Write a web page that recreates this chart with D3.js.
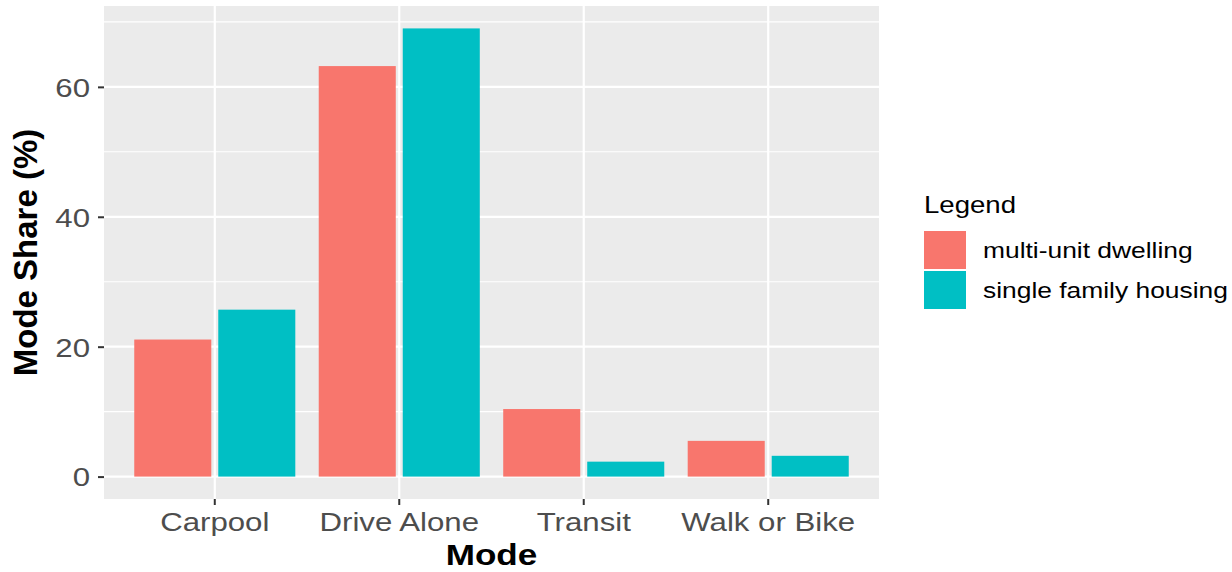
<!DOCTYPE html>
<html>
<head>
<meta charset="utf-8">
<script src="https://cdn.jsdelivr.net/npm/d3@7"></script>
<style>
  html, body { margin: 0; padding: 0; background: #ffffff; }
  svg { display: block; font-family: "Liberation Sans", Arial, Helvetica, sans-serif; }
</style>
</head>
<body>
<svg id="chart" width="1232" height="572"></svg>
<script>
const categories = ["Carpool", "Drive Alone", "Transit", "Walk or Bike"];
const seriesNames = ["multi-unit dwelling", "single family housing"];
const multiUnit = [21.1, 63.2, 10.4, 5.5];
const singleFamily = [25.7, 69.0, 2.3, 3.2];
const yTicks = [0, 20, 40, 60];
const yMinorTicks = [10, 30, 50, 70];
const seriesColors = ["#F8766D", "#00BFC4"];
const xTitle = "Mode";
const yTitle = "Mode Share (%)";
const legendTitle = "Legend";

const seriesValues = [multiUnit, singleFamily];
const rows = [];
categories.forEach((c, i) => {
  seriesNames.forEach((s, j) => rows.push({ cat: c, series: s, value: seriesValues[j][i], color: seriesColors[j] }));
});

const panel = { left: 104, right: 879, top: 6, bottom: 499 };
const SX = 1.2; // horizontal stretch of text in the reference

const svg = d3.select("#chart");

const maxV = d3.max(rows, d => d.value);
const pad = maxV * 0.05;
const y = d3.scaleLinear().domain([0 - pad, maxV + pad]).range([panel.bottom, panel.top]);
const x = d3.scaleBand().domain(categories).range([panel.left, panel.right]).paddingInner(0.127).paddingOuter(0.164);
const xi = d3.scaleBand().domain(seriesNames).range([0, x.bandwidth()]).paddingInner(0.083);

// panel background
svg.append("rect")
  .attr("x", panel.left).attr("y", panel.top)
  .attr("width", panel.right - panel.left).attr("height", panel.bottom - panel.top)
  .attr("fill", "#EBEBEB");

// minor grid
svg.append("g").selectAll("line").data(yMinorTicks.filter(v => y(v) >= panel.top)).join("line")
  .attr("x1", panel.left).attr("x2", panel.right)
  .attr("y1", d => y(d)).attr("y2", d => y(d))
  .attr("stroke", "#ffffff").attr("stroke-width", 1.1);

// major grid
svg.append("g").selectAll("line").data(yTicks).join("line")
  .attr("x1", panel.left).attr("x2", panel.right)
  .attr("y1", d => y(d)).attr("y2", d => y(d))
  .attr("stroke", "#ffffff").attr("stroke-width", 2.2);
svg.append("g").selectAll("line").data(categories).join("line")
  .attr("x1", d => x(d) + x.bandwidth() / 2).attr("x2", d => x(d) + x.bandwidth() / 2)
  .attr("y1", panel.top).attr("y2", panel.bottom)
  .attr("stroke", "#ffffff").attr("stroke-width", 2.2);

// bars
svg.append("g").selectAll("rect").data(rows).join("rect")
  .attr("x", d => x(d.cat) + xi(d.series))
  .attr("width", xi.bandwidth())
  .attr("y", d => y(d.value))
  .attr("height", d => y(0) - y(d.value))
  .attr("fill", d => d.color);

// y axis
const yAxis = d3.axisLeft(y).tickValues(yTicks).tickSize(6).tickPadding(8).tickFormat(d3.format("d"));
const gy = svg.append("g").attr("transform", `translate(${panel.left},0)`).call(yAxis);
gy.select(".domain").remove();
gy.selectAll(".tick line").attr("stroke", "#333333").attr("stroke-width", 2);
gy.selectAll(".tick text")
  .attr("fill", "#4D4D4D").attr("font-size", 26)
  .attr("x", null).attr("dy", "0.36em")
  .attr("text-anchor", "end")
  .attr("transform", `translate(-14,0) scale(${SX},1)`);

// x axis
const xAxis = d3.axisBottom(x).tickSize(6).tickPadding(0);
const gx = svg.append("g").attr("transform", `translate(0,${panel.bottom})`).call(xAxis);
gx.select(".domain").remove();
gx.selectAll(".tick line").attr("stroke", "#333333").attr("stroke-width", 2);
gx.selectAll(".tick text")
  .attr("fill", "#4D4D4D").attr("font-size", 26)
  .attr("y", null).attr("dy", null)
  .attr("text-anchor", "middle")
  .attr("transform", `translate(0,32) scale(${SX},1)`);

// axis titles
svg.append("text")
  .attr("transform", `translate(${(panel.left + panel.right) / 2},565) scale(1.17,1)`)
  .attr("text-anchor", "middle").attr("font-size", 30).attr("font-weight", "bold").attr("fill", "#000")
  .text(xTitle);
svg.append("text")
  .attr("transform", `translate(37,${(panel.top + panel.bottom) / 2}) rotate(-90)`)
  .attr("text-anchor", "middle").attr("font-size", 33).attr("font-weight", "bold").attr("fill", "#000")
  .text(yTitle);

// legend
const lg = svg.append("g").attr("transform", "translate(924,0)");
lg.append("text")
  .attr("transform", `translate(0,213) scale(${SX},1)`)
  .attr("font-size", 23).attr("fill", "#000").text(legendTitle);
const keyW = 42, keyH = 38, keyTop = 231, keyGap = 2;
const li = lg.selectAll("g.item").data(seriesNames).join("g").attr("class", "item")
  .attr("transform", (d, i) => `translate(0,${keyTop + i * (keyH + keyGap)})`);
li.append("rect").attr("width", keyW).attr("height", keyH)
  .attr("fill", (d, i) => seriesColors[i]);
li.append("text")
  .attr("transform", `translate(${983 - 924},${keyH / 2}) scale(${SX},1)`)
  .attr("dy", "0.36em").attr("font-size", 22).attr("fill", "#000")
  .text(d => d);
</script>
</body>
</html>
